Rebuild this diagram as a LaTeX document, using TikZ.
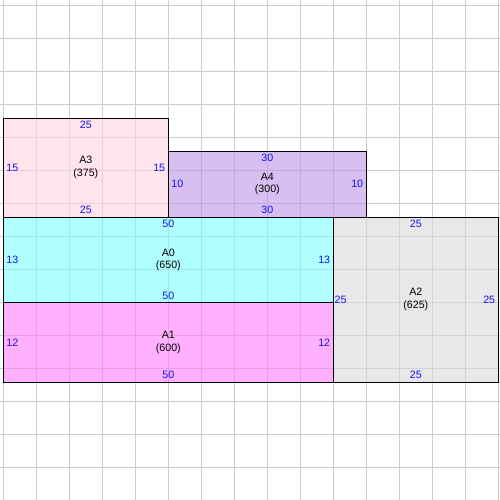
\documentclass[tikz,border=0pt]{standalone}
\usepackage{fontspec}
\setmainfont{Liberation Sans}
\usetikzlibrary{positioning}

\definecolor{roomA0}{RGB}{123,255,255}
\definecolor{roomA1}{RGB}{255,123,255}
\definecolor{roomA2}{RGB}{217,217,217}
\definecolor{roomA3}{RGB}{255,210,223}
\definecolor{roomA4}{RGB}{190,148,233}
\definecolor{gridgray}{RGB}{204,204,204}
\definecolor{lenblue}{RGB}{20,20,240}

\begin{document}
\begin{tikzpicture}[x=2mm, y=2mm,
  room/.style={draw=black, line width=0.8pt, fill opacity=0.6, inner sep=0pt, outer sep=0pt, anchor=south west},
  len/.style={font=\fontsize{9.2}{10.8}\selectfont, text=lenblue, inner sep=2.5pt},
  tag/.style={font=\fontsize{9.2}{10.8}\selectfont, align=center, inner sep=0pt}]
\useasboundingbox (-0.5,-17.85) rectangle (75.26,57.9);

% Background grid
\begin{scope}[shift={(0,2)}]
\draw[gridgray, line width=0.8pt, step=5] (-0.5,-19.85) grid (75.26,55.9);
\end{scope}

% Rooms
\node[room, fill=roomA1, minimum width=100mm, minimum height=24mm] (A1) at (0,0) {};
\node[room, fill=roomA0, minimum width=100mm, minimum height=26mm] (A0) at (0,12) {};
\node[room, fill=roomA2, minimum width=50mm, minimum height=50mm] (A2) at (50,0) {};
\node[room, fill=roomA3, minimum width=50mm, minimum height=30mm] (A3) at (0,25) {};
\node[room, fill=roomA4, minimum width=60mm, minimum height=20mm] (A4) at (25,25) {};

% Names and areas
\node[tag] (A0name) at (A0.center) {A0\\(650)};
\node[tag] (A1name) at (A1.center) {A1\\(600)};
\node[tag] (A2name) at (A2.center) {A2\\(625)};
\node[tag] (A3name) at (A3.center) {A3\\(375)};
\node[tag] (A4name) at (A4.center) {A4\\(300)};

% Side lengths
\node[len, below] (A0top) at (A0.north) {50};
\node[len, above] (A0bot) at (A0.south) {50};
\node[len, right] (A0lft) at (A0.west) {13};
\node[len, left] (A0rgt) at (A0.east) {13};

\node[len, above] (A1bot) at (A1.south) {50};
\node[len, right] (A1lft) at (A1.west) {12};
\node[len, left] (A1rgt) at (A1.east) {12};

\node[len, below] (A2top) at (A2.north) {25};
\node[len, above] (A2bot) at (A2.south) {25};
\node[len, right, inner xsep=1pt] (A2lft) at (A2.west) {25};
\node[len, left] (A2rgt) at (A2.east) {25};

\node[len, below] (A3top) at (A3.north) {25};
\node[len, above] (A3bot) at (A3.south) {25};
\node[len, right] (A3lft) at (A3.west) {15};
\node[len, left] (A3rgt) at (A3.east) {15};

\node[len, below] (A4top) at (A4.north) {30};
\node[len, above] (A4bot) at (A4.south) {30};
\node[len, right] (A4lft) at (A4.west) {10};
\node[len, left] (A4rgt) at (A4.east) {10};
\end{tikzpicture}
\end{document}
